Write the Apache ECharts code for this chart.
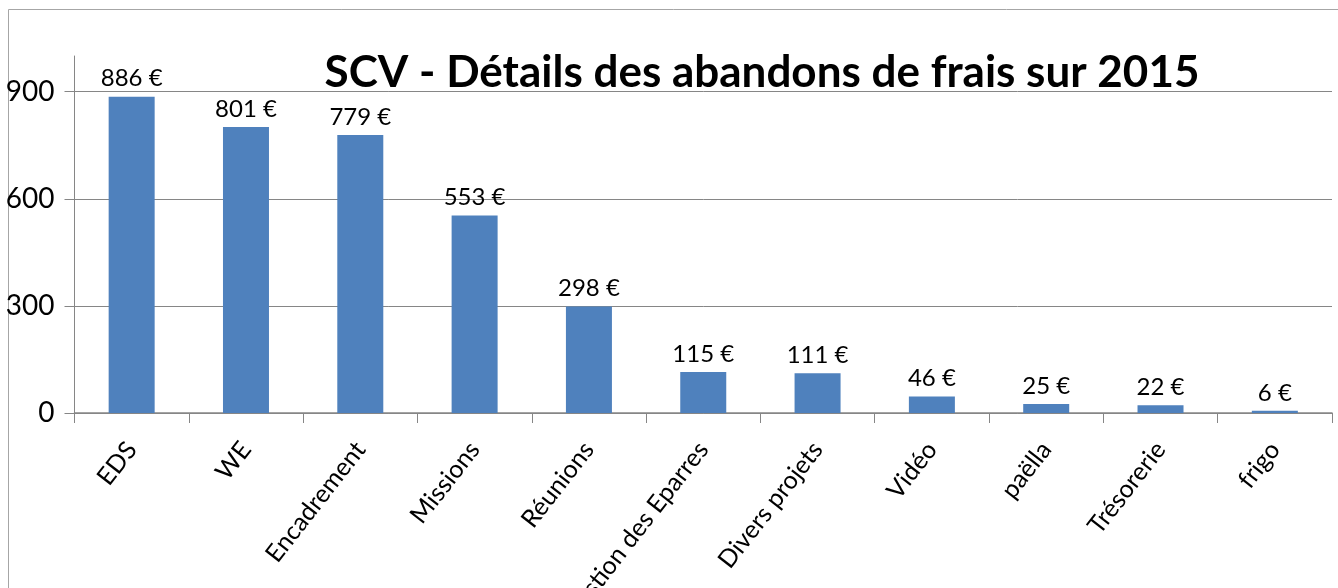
<!DOCTYPE html>
<html>
<head>
<meta charset="utf-8">
<script src="https://cdn.jsdelivr.net/npm/echarts@6/dist/echarts.min.js"></script>
<style>
  html, body { margin: 0; padding: 0; background: #fff; }
  #chart { width: 1338px; height: 588px; }
</style>
</head>
<body>
<div id="chart"></div>
<script>
// données
const categories = ['EDS', 'WE', 'Encadrement', 'Missions', 'Réunions', 'Gestion des Eparres',
  'Divers projets', 'Vidéo', 'paëlla', 'Trésorerie', 'frigo'];
const montants = [886, 801, 779, 553, 298, 115, 111, 46, 25, 22, 6];
const yTicks = [0, 300, 600, 900];

const chart = echarts.init(document.getElementById('chart'));
const font = 'Lato, "Open Sans", sans-serif';

chart.setOption({
  animation: false,
  title: {
    text: 'SCV - Détails des abandons de frais sur 2015',
    left: 757,
    textAlign: 'center',
    top: 46,
    textStyle: { fontFamily: font, fontWeight: 'bold', fontSize: 44, color: '#000' }
  },
  graphic: [{
    type: 'rect',
    shape: { x: 8.5, y: 9.5, width: 1340, height: 600 },
    style: { fill: 'none', stroke: '#a6a6a6', lineWidth: 1 },
    z: -1
  }],
  grid: { left: 74.5, right: 6, top: 56, bottom: 175, outerBoundsMode: 'none' },
  xAxis: {
    type: 'category',
    data: categories,
    axisLine: { lineStyle: { color: '#868686', width: 1.5 } },
    axisTick: { show: true, length: 10, lineStyle: { color: '#868686' } },
    axisLabel: {
      interval: 0,
      rotate: 52,
      margin: 32,
      fontFamily: font,
      fontSize: 25,
      color: '#000'
    }
  },
  yAxis: {
    type: 'value',
    min: 0,
    max: 1000,
    axisLine: { show: true, lineStyle: { color: '#868686' } },
    axisTick: { show: true, length: 10, customValues: yTicks, lineStyle: { color: '#868686' } },
    axisLabel: {
      customValues: yTicks,
      margin: 20,
      fontFamily: font,
      fontSize: 28,
      color: '#000'
    },
    splitLine: { show: true, lineStyle: { color: '#868686', width: 1 } }
  },
  series: [{
    type: 'bar',
    data: montants,
    barWidth: 46,
    itemStyle: { color: '#4f81bd' },
    label: {
      show: true,
      position: 'top',
      distance: 6,
      formatter: '{c} €',
      fontFamily: font,
      fontSize: 24,
      color: '#000'
    }
  }]
});
</script>
</body>
</html>
